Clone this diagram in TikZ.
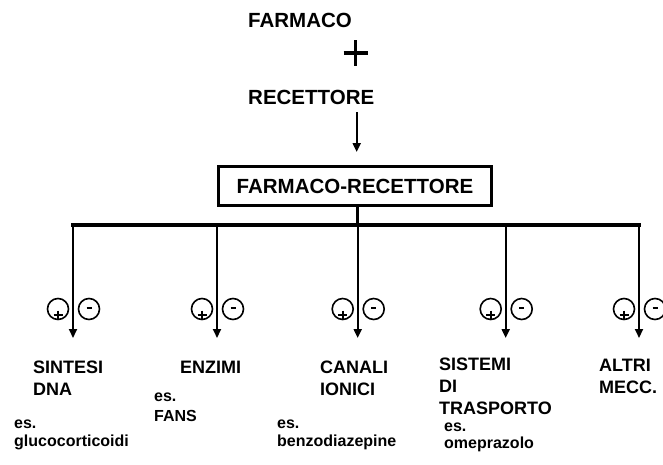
\documentclass[tikz,border=0pt]{standalone}
\usepackage{fontspec}
\setmainfont{Liberation Sans}
\usetikzlibrary{arrows.meta,calc}
\begin{document}
\begin{tikzpicture}[x=1pt,y=-1pt,
  big/.style={font=\fontsize{20.5}{24}\selectfont\bfseries, inner sep=0pt},
  lab/.style={font=\fontsize{18}{21.5}\selectfont\bfseries, inner sep=0pt, align=left, anchor=north west},
  ex/.style={font=\fontsize{16}{18}\selectfont\bfseries, inner sep=0pt, align=left, anchor=north west},
  thick line/.style={line width=3.2pt},
  branch/.style={line width=2pt, -{Triangle[length=9pt,width=8pt]}},
  sign/.style={draw, circle, line width=1.6pt, minimum size=21pt, inner sep=0pt},
  signbar/.style={line width=2.4pt}
]
\useasboundingbox (0,0) rectangle (663,464);

% top texts
\node[big, anchor=west] (farmaco) at (248,20) {FARMACO};
\coordinate (plusc) at (355.7,53);
\draw[line width=3.4pt] ($(plusc)+(-12,0)$) -- ($(plusc)+(12,0)$);
\draw[line width=3.4pt] ($(plusc)+(0,-13)$) -- ($(plusc)+(0,13)$);
\node[big, anchor=west] (recettore) at (248,97) {RECETTORE};
\node[draw, line width=3.4pt, minimum width=273pt, minimum height=39pt, inner sep=0pt,
      font=\fontsize{20.5}{24}\selectfont\bfseries] (fr) at (355,186) {FARMACO-RECETTORE};

\coordinate (arrtop) at (356.7,112);
\coordinate (arrbot) at (356.7,152);
\draw[line width=2pt, -{Triangle[length=9pt,width=8pt]}] (arrtop) -- (arrbot);

% tree
\coordinate (hub) at (357.7,225);
\coordinate (b1) at (73,225);
\coordinate (b2) at (217,225);
\coordinate (b3) at (357.7,225);
\coordinate (b4) at (505.7,225);
\coordinate (b5) at (639,225);
\draw[thick line] (fr.south -| hub) -- (hub);
\draw[thick line] ([xshift=-1.6pt]b1) -- ([xshift=1.6pt]b5);
\foreach \i in {1,...,5} {
  \coordinate (e\i) at ($(b\i)+(0,113)$);
  \draw[branch] (b\i) -- (e\i);
  \node[sign] (p\i) at ($(b\i)+(-15,84)$) {};
  \draw[signbar] ($(p\i.center)+(-4.5,6)$) -- ($(p\i.center)+(4.5,6)$);
  \draw[signbar] ($(p\i.center)+(0,1.5)$) -- ($(p\i.center)+(0,10)$);
  \node[sign] (m\i) at ($(b\i)+(16,84)$) {};
  \draw[signbar] ($(m\i.center)+(-2.5,-1)$) -- ($(m\i.center)+(2.5,-1)$);
}

% labels
\node[lab] (sintesi) at (33,361) {SINTESI\\DNA};
\node[lab] (enzimi) at (180,361) {ENZIMI};
\node[lab] (canali) at (320,361) {CANALI\\IONICI};
\node[lab, font=\fontsize{18}{22}\selectfont\bfseries] (sistemi) at (439,358) {SISTEMI\\DI\\TRASPORTO};
\node[lab] (altri) at (599,359) {ALTRI\\MECC.};

\node[ex] (exgluco) at (14,420) {es.\\glucocorticoidi};
\node[ex, font=\fontsize{16}{19.5}\selectfont\bfseries] (exfans) at (154,393) {es.\\FANS};
\node[ex] (exbenzo) at (277,420) {es.\\benzodiazepine};
\node[ex, font=\fontsize{16}{17}\selectfont\bfseries] (exomep) at (444,423) {es.\\omeprazolo};
\end{tikzpicture}
\end{document}
